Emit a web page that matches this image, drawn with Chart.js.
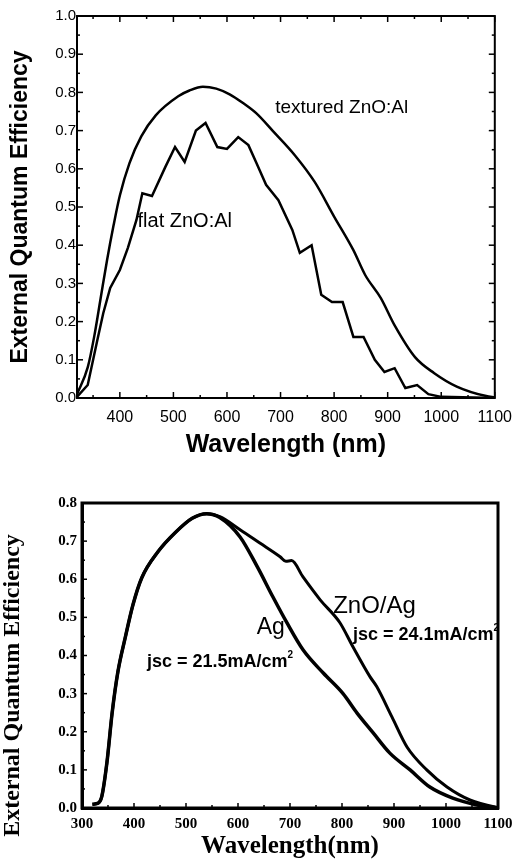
<!DOCTYPE html>
<html>
<head>
<meta charset="utf-8">
<script src="https://cdn.jsdelivr.net/npm/chart.js@4"></script>
<style>
  body { margin: 0; background: #fff; }
  #wrap { position: relative; width: 522px; height: 863px; }
  #topChart { position: absolute; left: 0; top: 0; }
  #bottomChart { position: absolute; left: 0; top: 470px; }
</style>
</head>
<body>
<div id="wrap">
  <canvas id="topChart" width="522" height="470"></canvas>
  <canvas id="bottomChart" width="522" height="393"></canvas>
</div>
<script>
// top panel: textured vs flat ZnO:Al
const texturedNm  = [320, 340, 352, 364, 376, 388, 400, 418, 440, 467, 509, 530, 555, 580, 605, 630, 655, 685, 727, 764, 800, 836, 858, 887, 913, 951, 987, 1029, 1084, 1100]
const texturedEqe = [0.01, 0.08, 0.16, 0.26, 0.36, 0.45, 0.53, 0.615, 0.685, 0.74, 0.79, 0.805, 0.815, 0.81, 0.795, 0.772, 0.745, 0.70, 0.635, 0.565, 0.475, 0.387, 0.322, 0.262, 0.19, 0.107, 0.065, 0.03, 0.005, 0.002]

const flatNm  = [320, 340, 358, 369, 382, 400, 415, 431, 442, 460, 485, 503, 521, 542, 560, 582, 600, 621, 640, 655, 673, 696, 722, 736, 758, 776, 796, 816, 836, 855, 876, 894, 913, 933, 955, 976, 1000, 1100]
const flatEqe = [0.003, 0.034, 0.152, 0.222, 0.288, 0.335, 0.393, 0.466, 0.536, 0.529, 0.605, 0.657, 0.618, 0.70, 0.72, 0.657, 0.652, 0.683, 0.662, 0.615, 0.558, 0.518, 0.44, 0.38, 0.40, 0.27, 0.251, 0.251, 0.16, 0.16, 0.10, 0.068, 0.078, 0.026, 0.034, 0.01, 0.003, 0.0]

const topXTicks = [400, 500, 600, 700, 800, 900, 1000, 1100]
const topXMinor = [350, 450, 550, 650, 750, 850, 950, 1050]
const topYTicks = [0, 0.1, 0.2, 0.3, 0.4, 0.5, 0.6, 0.7, 0.8, 0.9, 1.0]
const topYMinor = [0.05, 0.15, 0.25, 0.35, 0.45, 0.55, 0.65, 0.75, 0.85, 0.95]

// bottom panel: Ag vs ZnO/Ag back reflector
const agNm  = [320, 330, 338, 348, 358, 369, 383, 398, 415, 446, 479, 512, 540, 565, 604, 637, 667, 694, 725, 764, 802, 829, 860, 892, 931, 969, 1013, 1060, 1100]
const agEqe = [0.01, 0.012, 0.03, 0.12, 0.25, 0.357, 0.446, 0.533, 0.604, 0.672, 0.722, 0.76, 0.772, 0.762, 0.711, 0.633, 0.554, 0.486, 0.415, 0.354, 0.30, 0.249, 0.197, 0.144, 0.10, 0.055, 0.026, 0.008, 0.0]

const znoAgNm  = [320, 330, 338, 348, 358, 369, 383, 398, 415, 446, 479, 512, 540, 565, 604, 642, 681, 692, 703, 725, 758, 796, 821, 854, 867, 896, 925, 963, 1002, 1046, 1094, 1100]
const znoAgEqe = [0.01, 0.012, 0.03, 0.12, 0.25, 0.357, 0.446, 0.533, 0.604, 0.672, 0.722, 0.76, 0.772, 0.764, 0.73, 0.695, 0.659, 0.647, 0.649, 0.606, 0.546, 0.486, 0.423, 0.344, 0.318, 0.239, 0.16, 0.10, 0.055, 0.021, 0.003, 0.002]

const bottomXTicks = [300, 400, 500, 600, 700, 800, 900, 1000, 1100]
const bottomXMinor = [350, 450, 550, 650, 750, 850, 950, 1050]
const bottomYTicks = [0, 0.1, 0.2, 0.3, 0.4, 0.5, 0.6, 0.7, 0.8]
const bottomYMinor = [0.05, 0.15, 0.25, 0.35, 0.45, 0.55, 0.65, 0.75]

const pts = (xs, ys) => xs.map((x, i) => ({ x: x, y: ys[i] }))

// box round the plot + inward tick marks
const framePlugin = {
  id: 'frame',
  afterDraw(chart, args, opts) {
    const ctx = chart.ctx
    const a = chart.chartArea
    const xs = chart.scales.x
    const ys = chart.scales.y
    ctx.save()
    ctx.strokeStyle = '#000'
    ctx.lineWidth = opts.lineWidth
    ctx.strokeRect(a.left, a.top, a.right - a.left, a.bottom - a.top)
    ctx.lineWidth = 1.5
    const tick = (vals, len) => {
      vals.x.forEach(v => {
        const px = xs.getPixelForValue(v)
        ctx.beginPath(); ctx.moveTo(px, a.bottom); ctx.lineTo(px, a.bottom - len); ctx.stroke()
        if (opts.mirror) { ctx.beginPath(); ctx.moveTo(px, a.top); ctx.lineTo(px, a.top + len); ctx.stroke() }
      })
      vals.y.forEach(v => {
        const py = ys.getPixelForValue(v)
        ctx.beginPath(); ctx.moveTo(a.left, py); ctx.lineTo(a.left + len, py); ctx.stroke()
        if (opts.mirror) { ctx.beginPath(); ctx.moveTo(a.right, py); ctx.lineTo(a.right - len, py); ctx.stroke() }
      })
    }
    tick({ x: opts.xMajor, y: opts.yMajor }, opts.majorLen)
    tick({ x: opts.xMinor, y: opts.yMinor }, opts.minorLen)

    // side title that is not centred on the axis
    if (opts.sideTitle) {
      const t = opts.sideTitle
      ctx.translate(t.x, (a.top + a.bottom) / 2 + t.shift)
      ctx.rotate(-Math.PI / 2)
      ctx.font = t.font
      ctx.fillStyle = '#000'
      ctx.textAlign = 'center'
      ctx.textBaseline = 'middle'
      ctx.fillText(t.text, 0, 0)
    }
    ctx.restore()
  }
}

// text labels placed in data coordinates
const notesPlugin = {
  id: 'notes',
  afterDraw(chart, args, opts) {
    const ctx = chart.ctx
    ctx.save()
    ctx.fillStyle = '#000'
    ctx.textBaseline = 'middle'
    ctx.textAlign = 'left'
    opts.items.forEach(n => {
      const px = chart.scales.x.getPixelForValue(n.x)
      const py = chart.scales.y.getPixelForValue(n.y)
      ctx.font = n.font
      ctx.fillText(n.text, px, py)
      if (n.sup) {
        const w = ctx.measureText(n.text).width
        ctx.font = n.supFont
        ctx.fillText(n.sup, px + w, py - 7)
      }
    })
    ctx.restore()
  }
}

const topFont = 'Liberation Sans'
const bottomFont = 'Liberation Serif'

new Chart(document.getElementById('topChart'), {
  type: 'line',
  data: {
    datasets: [{
      data: pts(texturedNm, texturedEqe),
      borderColor: '#000',
      borderWidth: 2.5,
      pointRadius: 0,
      cubicInterpolationMode: 'monotone'
    }, {
      data: pts(flatNm, flatEqe),
      borderColor: '#000',
      borderWidth: 2.5,
      pointRadius: 0,
      tension: 0
    }]
  },
  options: {
    responsive: false,
    animation: false,
    devicePixelRatio: 1,
    layout: { padding: { top: 16, right: 22, left: 0, bottom: 0 } },
    plugins: {
      legend: { display: false },
      tooltip: { enabled: false },
      frame: {
        lineWidth: 2, mirror: true, majorLen: 6, minorLen: 3,
        xMajor: topXTicks, xMinor: topXMinor, yMajor: topYTicks, yMinor: topYMinor
      },
      notes: {
        items: [
          { text: 'textured ZnO:Al', x: 690, y: 0.759, font: '19px ' + topFont },
          { text: 'flat ZnO:Al', x: 433, y: 0.461, font: '20px ' + topFont }
        ]
      }
    },
    scales: {
      x: {
        type: 'linear',
        min: 320,
        max: 1100,
        afterBuildTicks: s => { s.ticks = topXTicks.map(v => ({ value: v })) },
        afterFit: s => { s.height = 72 },
        grid: { display: false, drawTicks: false },
        border: { display: true, color: '#000', width: 2 },
        ticks: { color: '#000', padding: 10, maxRotation: 0, autoSkip: false, callback: v => String(v), font: { family: topFont, size: 16 } },
        title: { display: true, text: 'Wavelength (nm)', color: '#000', padding: { bottom: 10 }, font: { family: topFont, size: 25, weight: 'bold' } }
      },
      y: {
        min: 0,
        max: 1,
        afterBuildTicks: s => { s.ticks = topYTicks.map(v => ({ value: v })) },
        afterFit: s => { s.width = 77 },
        grid: { display: false, drawTicks: false },
        border: { display: true, color: '#000', width: 2 },
        ticks: { color: '#000', padding: 1, callback: v => v.toFixed(1), font: { family: topFont, size: 15 } },
        title: { display: true, text: 'External Quantum Efficiency', color: '#000', padding: { top: 7 }, font: { family: topFont, size: 23, weight: 'bold' } }
      }
    }
  },
  plugins: [framePlugin, notesPlugin]
})

new Chart(document.getElementById('bottomChart'), {
  type: 'line',
  data: {
    datasets: [{
      data: pts(agNm, agEqe),
      borderColor: '#000',
      borderWidth: 3.5,
      pointRadius: 0,
      cubicInterpolationMode: 'monotone'
    }, {
      data: pts(znoAgNm, znoAgEqe),
      borderColor: '#000',
      borderWidth: 3,
      pointRadius: 0,
      cubicInterpolationMode: 'monotone'
    }]
  },
  options: {
    responsive: false,
    animation: false,
    devicePixelRatio: 1,
    layout: { padding: { top: 33, right: 24, left: 0, bottom: 0 } },
    plugins: {
      legend: { display: false },
      tooltip: { enabled: false },
      frame: {
        lineWidth: 3, mirror: false, majorLen: 5, minorLen: 3,
        xMajor: bottomXTicks, xMinor: bottomXMinor, yMajor: bottomYTicks, yMinor: bottomYMinor,
        sideTitle: { text: 'External Quantum Efficiency', x: 13, shift: 30, font: 'bold 24px ' + bottomFont }
      },
      notes: {
        items: [
          { text: 'ZnO/Ag', x: 783, y: 0.528, font: '24px ' + topFont },
          { text: 'Ag', x: 636, y: 0.472, font: '23px ' + topFont },
          { text: 'jsc = 21.5mA/cm', sup: '2', x: 425, y: 0.383, font: 'bold 18px ' + topFont, supFont: 'bold 10px ' + topFont },
          { text: 'jsc = 24.1mA/cm', sup: '2', x: 821, y: 0.454, font: 'bold 18px ' + topFont, supFont: 'bold 10px ' + topFont }
        ]
      }
    },
    scales: {
      x: {
        type: 'linear',
        min: 300,
        max: 1100,
        afterBuildTicks: s => { s.ticks = bottomXTicks.map(v => ({ value: v })) },
        afterFit: s => { s.height = 55 },
        grid: { display: false, drawTicks: false },
        border: { display: true, color: '#000', width: 3 },
        ticks: { color: '#000', padding: 7, maxRotation: 0, autoSkip: false, callback: v => String(v), font: { family: bottomFont, size: 15, weight: 'bold' } },
        title: { display: true, text: 'Wavelength(nm)', color: '#000', padding: { bottom: 1 }, font: { family: bottomFont, size: 25, weight: 'bold' } }
      },
      y: {
        min: 0,
        max: 0.8,
        afterBuildTicks: s => { s.ticks = bottomYTicks.map(v => ({ value: v })) },
        afterFit: s => { s.width = 82 },
        grid: { display: false, drawTicks: false },
        border: { display: true, color: '#000', width: 3 },
        ticks: { color: '#000', padding: 5, callback: v => v.toFixed(1), font: { family: bottomFont, size: 15, weight: 'bold' } },
        title: { display: false }
      }
    }
  },
  plugins: [framePlugin, notesPlugin]
})
</script>
</body>
</html>
